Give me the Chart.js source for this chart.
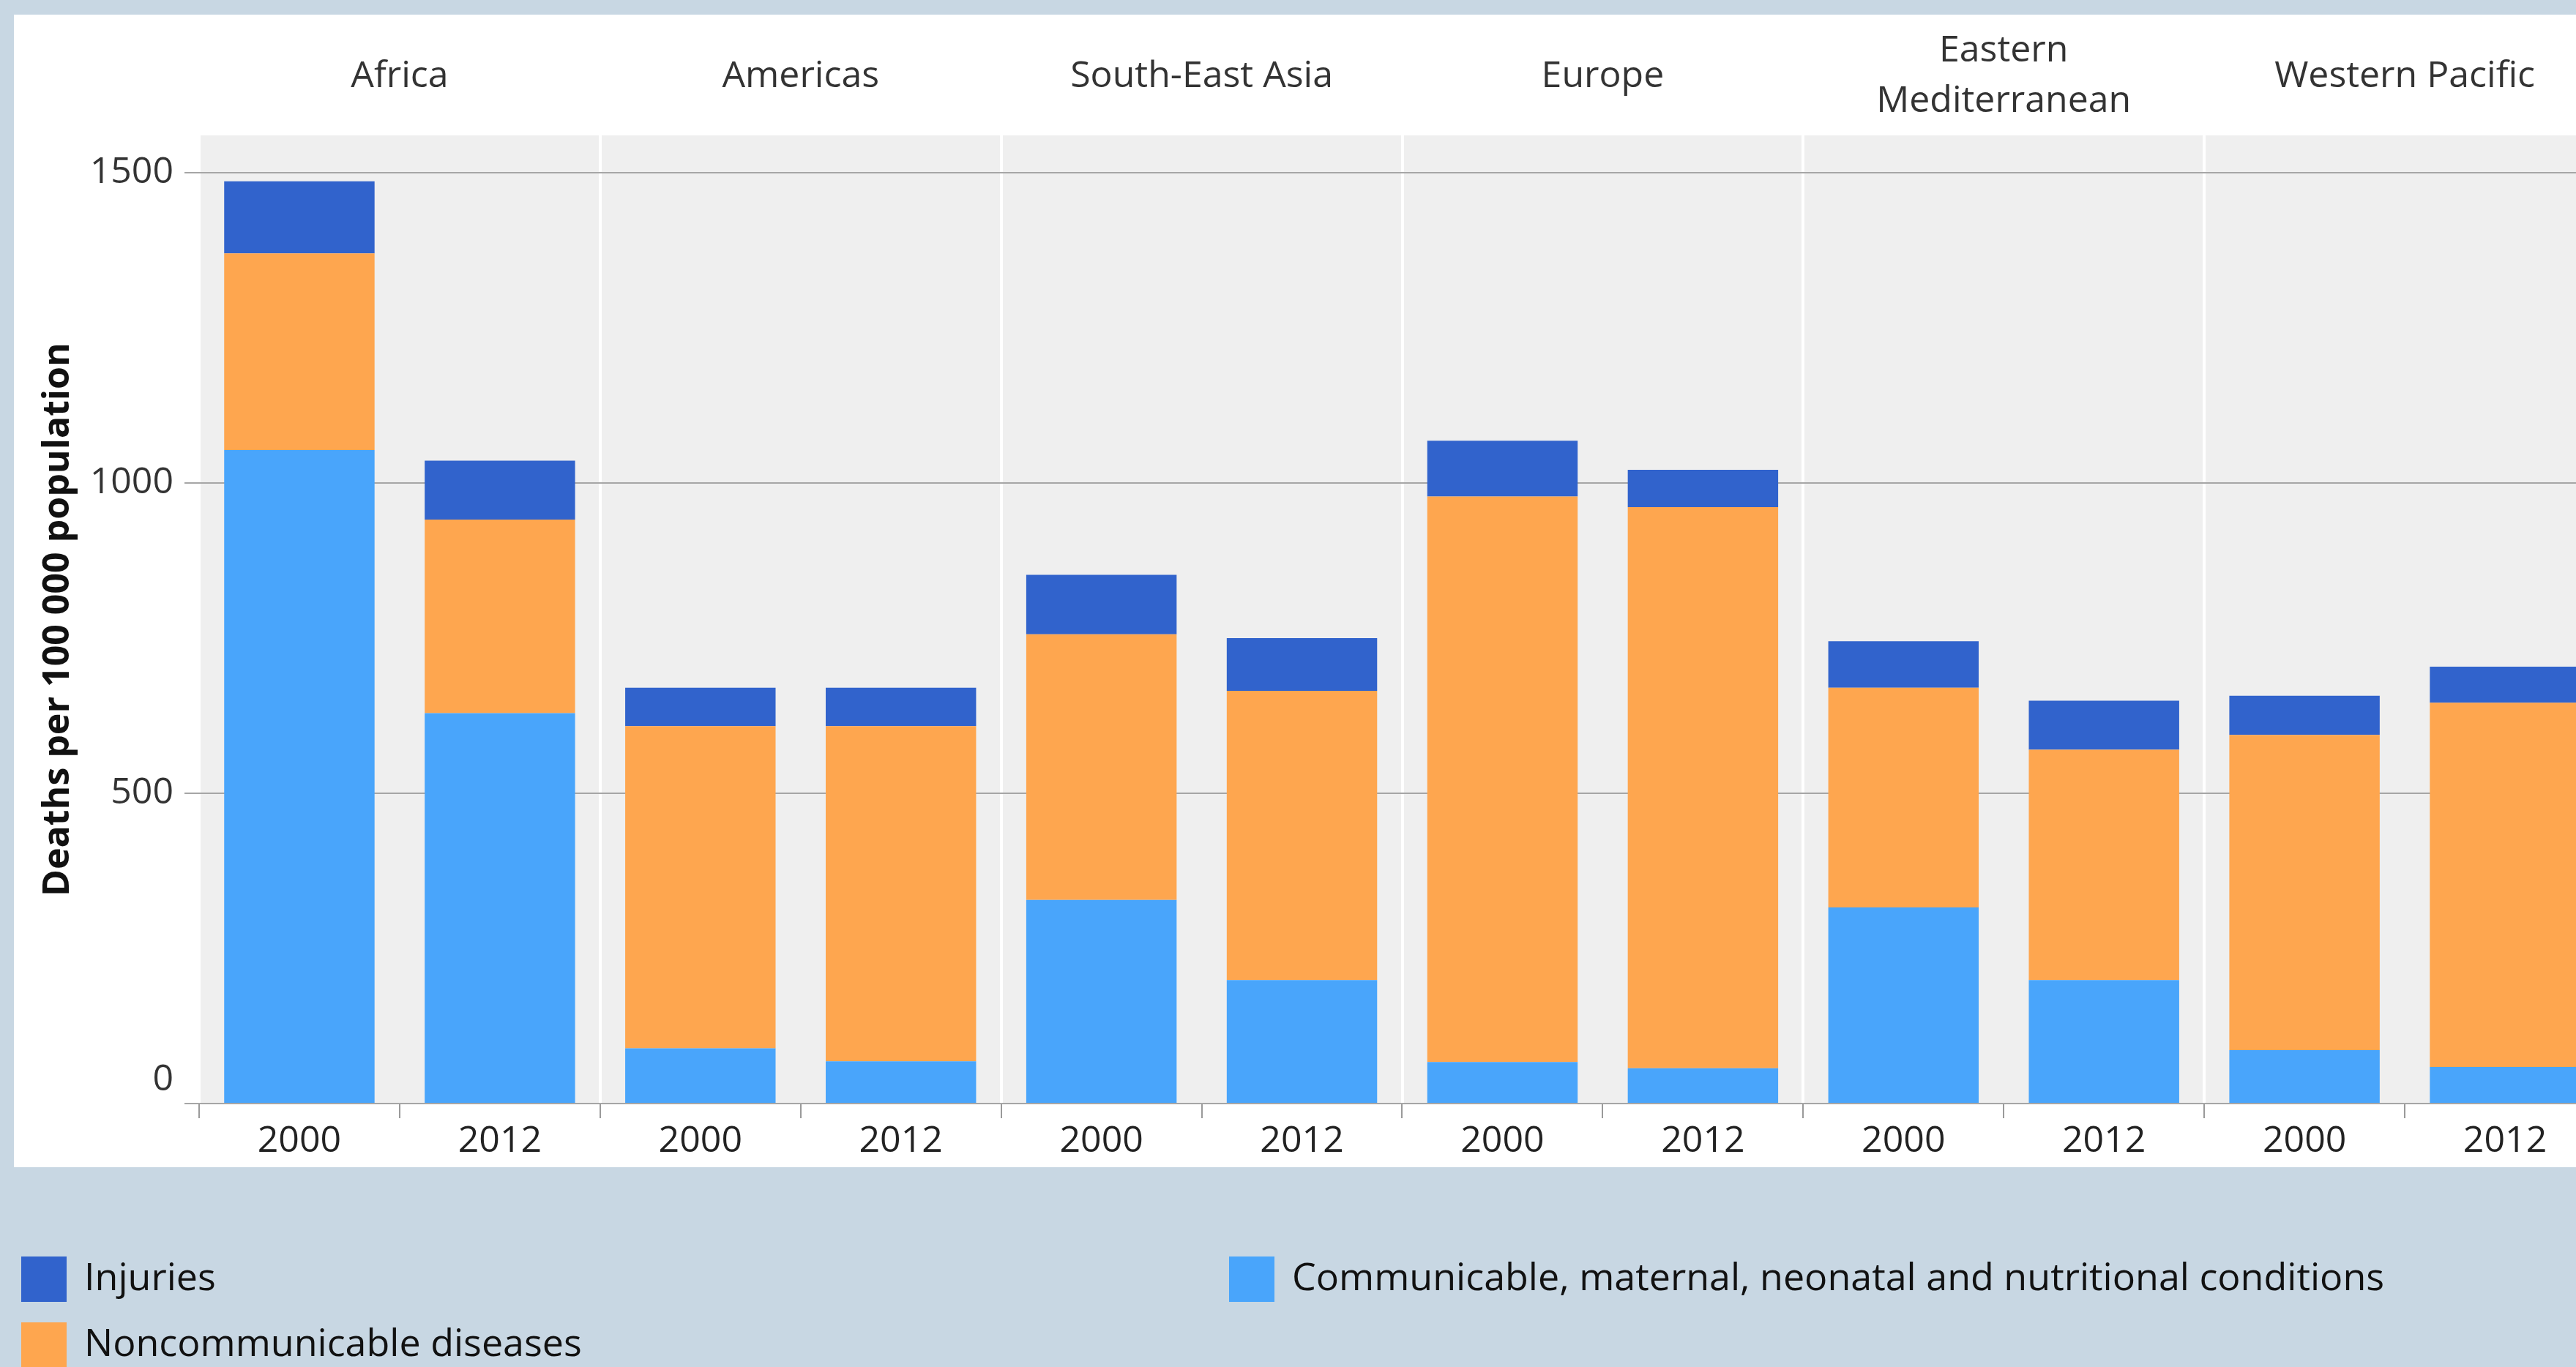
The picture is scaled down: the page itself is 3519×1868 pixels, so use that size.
<!DOCTYPE html>
<html>
<head>
<meta charset="utf-8">
<script src="https://cdn.jsdelivr.net/npm/chart.js@4.4.1/dist/chart.umd.min.js"></script>
<style>
  html, body { margin: 0; padding: 0; overflow: hidden; background: #c8d7e3; }
  canvas { display: block; }
</style>
</head>
<body>
<canvas id="chart" width="3580" height="1868"></canvas>
<script>
// WHO regions, each shown for two years
const regions = ['Africa', 'Americas', 'South-East Asia', 'Europe', ['Eastern', 'Mediterranean'], 'Western Pacific'];
const years = ['2000', '2012'];

// Deaths per 100 000 population, by cause group (Africa 2000, Africa 2012, Americas 2000, ...)
const communicable = [1053, 629, 89, 68, 328, 199, 67, 57, 316, 199, 86, 59];
const noncommunicable = [317, 312, 519, 540, 428, 466, 911, 904, 354, 371, 508, 587];
const injuries = [116, 95, 62, 62, 96, 85, 90, 60, 75, 79, 63, 58];

const seriesNames = {
  injuries: 'Injuries',
  noncommunicable: 'Noncommunicable diseases',
  communicable: 'Communicable, maternal, neonatal and nutritional conditions'
};
const yTicks = [0, 500, 1000, 1500];

const colors = {
  injuries: '#3163cc',
  noncommunicable: '#fea64f',
  communicable: '#49a5fb'
};

const FONT = '"Open Sans", "Noto Sans", sans-serif';
const xLabels = regions.flatMap(() => years);

// Panels behind the plot: page tint, white card, grey plotting field.
// Also lifts the "0" value label clear of the baseline.
const backdrop = {
  id: 'backdrop',
  beforeDraw(chart) {
    const { ctx, chartArea: a } = chart;
    const items = chart.scales.y.getLabelItems(a);
    if (items.length && !items[0].lifted) {
      items[0].options.translation[1] -= 32;
      items[0].lifted = true;
    }
    ctx.save();
    ctx.fillStyle = '#c8d7e3';
    ctx.fillRect(0, 0, chart.width, chart.height);
    ctx.fillStyle = '#ffffff';
    ctx.fillRect(19, 20, chart.width - 19, 1595 - 20);
    ctx.fillStyle = '#efefef';
    ctx.fillRect(a.left, a.top, a.right - a.left, a.bottom - a.top);
    ctx.restore();
  }
};

// Two-row legend laid out column by column under the card
const blockLegend = {
  id: 'blockLegend',
  afterDraw(chart) {
    const { ctx } = chart;
    const order = [seriesNames.injuries, seriesNames.noncommunicable, seriesNames.communicable];
    const cols = [29, 1679];
    const rows = [1717, 1807];
    const box = 62;
    ctx.save();
    ctx.font = '52px ' + FONT;
    ctx.textBaseline = 'middle';
    ctx.textAlign = 'left';
    order.forEach((name, i) => {
      const ds = chart.data.datasets.find(d => d.label === name);
      const x = cols[Math.floor(i / 2)];
      const y = rows[i % 2];
      ctx.fillStyle = ds.backgroundColor;
      ctx.fillRect(x, y, box, box);
      ctx.fillStyle = '#111111';
      ctx.fillText(name, x + 86, y + box / 2);
    });
    ctx.restore();
  }
};

new Chart(document.getElementById('chart'), {
  type: 'bar',
  data: {
    labels: xLabels,
    datasets: [
      { label: seriesNames.communicable, data: communicable, backgroundColor: colors.communicable },
      { label: seriesNames.noncommunicable, data: noncommunicable, backgroundColor: colors.noncommunicable },
      { label: seriesNames.injuries, data: injuries, backgroundColor: colors.injuries }
    ]
  },
  options: {
    responsive: false,
    devicePixelRatio: 1,
    animation: false,
    layout: { padding: { left: 19, top: 20, right: 21, bottom: 273 } },
    datasets: { bar: { categoryPercentage: 1, barPercentage: 0.75, borderWidth: 0 } },
    plugins: { legend: { display: false }, tooltip: { enabled: false } },
    scales: {
      x: {
        stacked: true,
        offset: true,
        border: { display: false },
        grid: {
          offset: true,
          drawOnChartArea: false,
          drawTicks: true,
          tickLength: 20,
          color: '#9a9a9a',
          lineWidth: 2
        },
        ticks: {
          color: '#222222',
          padding: 2,
          maxRotation: 0,
          autoSkip: false,
          font: { family: FONT, size: 50 }
        },
        afterFit(s) { s.height = 87; }
      },
      x2: {
        type: 'category',
        labels: regions,
        position: 'top',
        offset: true,
        border: { display: false },
        grid: {
          offset: true,
          drawTicks: false,
          color: '#ffffff',
          lineWidth: 4
        },
        ticks: {
          color: '#333333',
          padding: 46,
          crossAlign: 'center',
          maxRotation: 0,
          autoSkip: false,
          font: { family: FONT, size: 50, lineHeight: 1.38 }
        },
        afterFit(s) { s.height = 165; }
      },
      y: {
        stacked: true,
        min: 0,
        max: 1560,
        border: { display: false },
        grid: {
          color: '#a6a6a6',
          lineWidth: 2,
          drawTicks: true,
          tickLength: 20
        },
        ticks: {
          stepSize: 500,
          padding: 15,
          color: '#333333',
          font: { family: FONT, size: 50 },
          callback: v => String(v)
        },
        afterBuildTicks(s) {
          s.ticks = yTicks.map(v => ({ value: v }));
        },
        title: {
          display: true,
          text: 'Deaths per 100 000 population',
          color: '#111111',
          padding: { top: 31, bottom: 0 },
          font: { family: FONT, size: 50, weight: 'bold' }
        },
        afterFit(s) { s.width = 253; }
      }
    }
  },
  plugins: [backdrop, blockLegend]
});
</script>
</body>
</html>
